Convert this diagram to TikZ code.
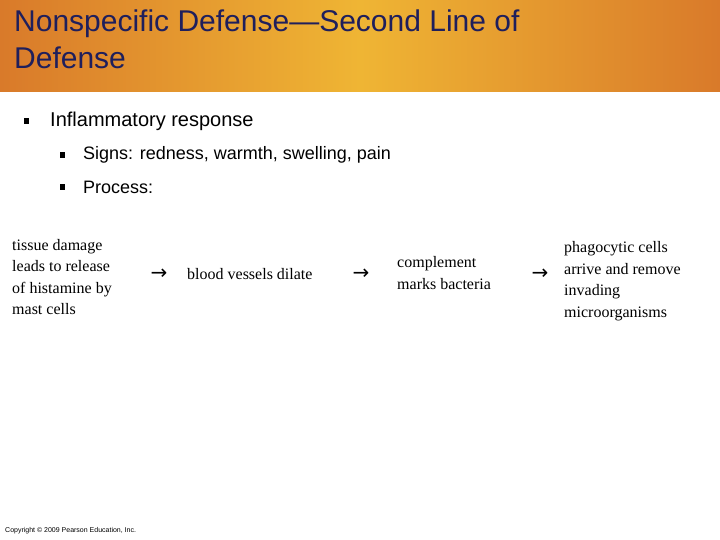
\documentclass[tikz,border=0pt]{standalone}
\usepackage{fontspec}
\setmainfont{Liberation Serif}
\newfontfamily\hsans{Liberation Sans}
\newfontfamily\dvs{DejaVu Sans}
\begin{document}
\begin{tikzpicture}[x=1pt,y=-1pt,
  title/.style={anchor=north west,align=left,font=\hsans\fontsize{30}{38}\selectfont,text=titleblue,inner sep=0},
  bul/.style={anchor=west,font=\hsans\fontsize{20}{24}\selectfont,inner sep=0},
  sbul/.style={anchor=west,font=\hsans\fontsize{18}{22}\selectfont,inner sep=0},
  proc/.style={anchor=west,align=left,font=\fontsize{16}{21.5}\selectfont,inner sep=0},
  arr/.style={font=\dvs\fontsize{20}{20}\selectfont,inner sep=0}]
\definecolor{titleblue}{HTML}{1F1F5C}
\definecolor{edgeor}{HTML}{D97A2A}
\definecolor{midor}{HTML}{EFB534}
\useasboundingbox (0,0) rectangle (720,540);
\fill[white] (0,0) rectangle (720,540);
\shade[left color=edgeor,right color=midor] (0,0) rectangle (360,92);
\shade[left color=midor,right color=edgeor] (360,0) rectangle (720,92);
\node[title] (t) at (14,10) {Nonspecific Defense—Second Line of\\[-1pt]Defense};
\node[bul] (b1m) at (24,121) {\fontsize{10}{10}\selectfont\rule{5pt}{6pt}};
\node[bul] (b1) at (50,121) {Inflammatory response};
\node[sbul] (b2m) at (60,155) {\rule{5pt}{6pt}};
\node[sbul] (b2) at (83,155) {Signs: redness, warmth, swelling, pain};
\node[sbul] (b3m) at (60,187) {\rule{5pt}{6pt}};
\node[sbul] (b3) at (83,187) {Process:};
\node[proc] (p1) at (12,277) {tissue damage\\leads to release\\of histamine by\\mast cells};
\node[arr] (a1) at (159,274) {→};
\node[proc] (p2) at (187,274) {blood vessels dilate};
\node[arr] (a2) at (361,274) {→};
\node[proc] (p3) at (397,273) {complement\\marks bacteria};
\node[arr] (a3) at (540,274) {→};
\node[proc] (p4) at (564,281) {phagocytic cells\\arrive and remove\\invading\\microorganisms};
\node[anchor=west,inner sep=0,font=\hsans\fontsize{7}{8}\selectfont] (c) at (5,531) {Copyright © 2009 Pearson Education, Inc.};
\end{tikzpicture}
\end{document}
